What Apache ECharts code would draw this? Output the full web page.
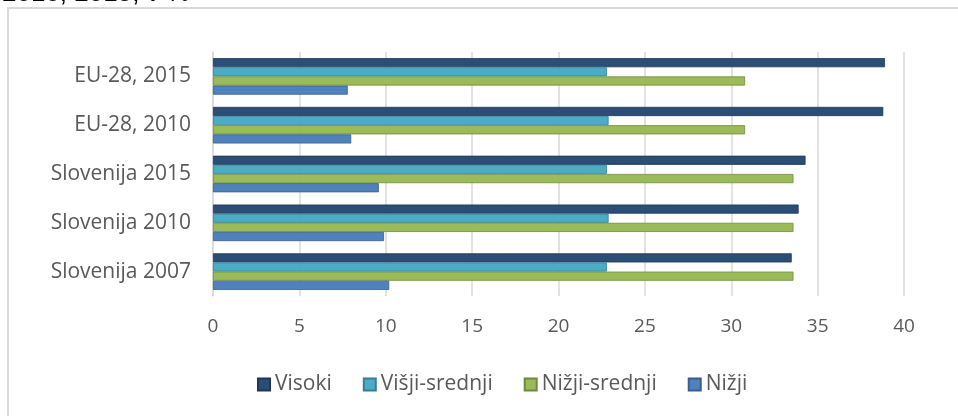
<!DOCTYPE html>
<html>
<head>
<meta charset="utf-8">
<script src="https://cdn.jsdelivr.net/npm/echarts@6/dist/echarts.min.js"></script>
<style>
html,body{margin:0;padding:0;background:#fff;}
#c{width:958px;height:416px;}
</style>
</head>
<body>
<div id="c"></div>
<script>
// Categories bottom-to-top
var categories = ['Slovenija 2007', 'Slovenija 2010', 'Slovenija 2015', 'EU-28, 2010', 'EU-28, 2015'];
var seriesNames = ['Visoki', 'Višji-srednji', 'Nižji-srednji', 'Nižji'];
var visoki = [33.5, 33.9, 34.3, 38.8, 38.9];
var visjiSrednji = [22.8, 22.9, 22.8, 22.9, 22.8];
var nizjiSrednji = [33.6, 33.6, 33.6, 30.8, 30.8];
var nizji = [10.2, 9.9, 9.6, 8.0, 7.8];
var xTicks = [0, 5, 10, 15, 20, 25, 30, 35, 40];
var titleText = '2010, 2015, v %';

var colors = {
  'Visoki': '#2C4D75',
  'Višji-srednji': '#4BACC6',
  'Nižji-srednji': '#9BBB59',
  'Nižji': '#4F81BD'
};
var borders = {
  'Visoki': '#1F3855',
  'Višji-srednji': '#357F93',
  'Nižji-srednji': '#6F8A3E',
  'Nižji': '#395F8C'
};
var dataMap = {
  'Visoki': visoki,
  'Višji-srednji': visjiSrednji,
  'Nižji-srednji': nizjiSrednji,
  'Nižji': nizji
};
var font = '"Open Sans", "Noto Sans", sans-serif';

var chart = echarts.init(document.getElementById('c'), null, {renderer: 'canvas'});
chart.setOption({
  animation: false,
  backgroundColor: '#fff',
  graphic: [
    {type: 'rect', shape: {x: 8, y: 8, width: 1000, height: 500}, style: {fill: 'none', stroke: '#D9D9D9', lineWidth: 2}, z: -1},
    {type: 'text', style: {text: titleText, x: 2, y: 7, font: '26px "Liberation Sans", Arial', fill: '#000', verticalAlign: 'bottom'}}
  ],
  grid: {left: 213, right: 54, top: 52, bottom: 120, containLabel: false},
  legend: {
    data: seriesNames,
    bottom: 16,
    left: 252,
    itemWidth: 12,
    itemHeight: 12,
    itemGap: 31,
    icon: 'rect',
    textStyle: {color: '#595959', fontSize: 21, fontFamily: font}
  },
  xAxis: {
    type: 'value',
    min: 0,
    max: 40,
    interval: 5,
    axisLine: {show: false},
    axisTick: {show: false},
    splitLine: {show: true, lineStyle: {color: '#D9D9D9', width: 1.5}},
    axisLabel: {color: '#595959', fontSize: 19, fontFamily: font, margin: 21,
      formatter: function (v) { return xTicks.indexOf(v) >= 0 ? String(v) : ''; }}
  },
  yAxis: {
    type: 'category',
    data: categories,
    axisLine: {show: true, lineStyle: {color: '#D9D9D9', width: 1.5}},
    axisTick: {show: false},
    axisLabel: {color: '#595959', fontSize: 21, fontFamily: font, margin: 22}
  },
  series: seriesNames.map(function (n) {
    return {
      name: n,
      type: 'bar',
      data: dataMap[n],
      barGap: '0%',
      barCategoryGap: '25%',
      itemStyle: {color: colors[n], borderColor: borders[n], borderWidth: 0.8}
    };
  })
});
</script>
</body>
</html>
